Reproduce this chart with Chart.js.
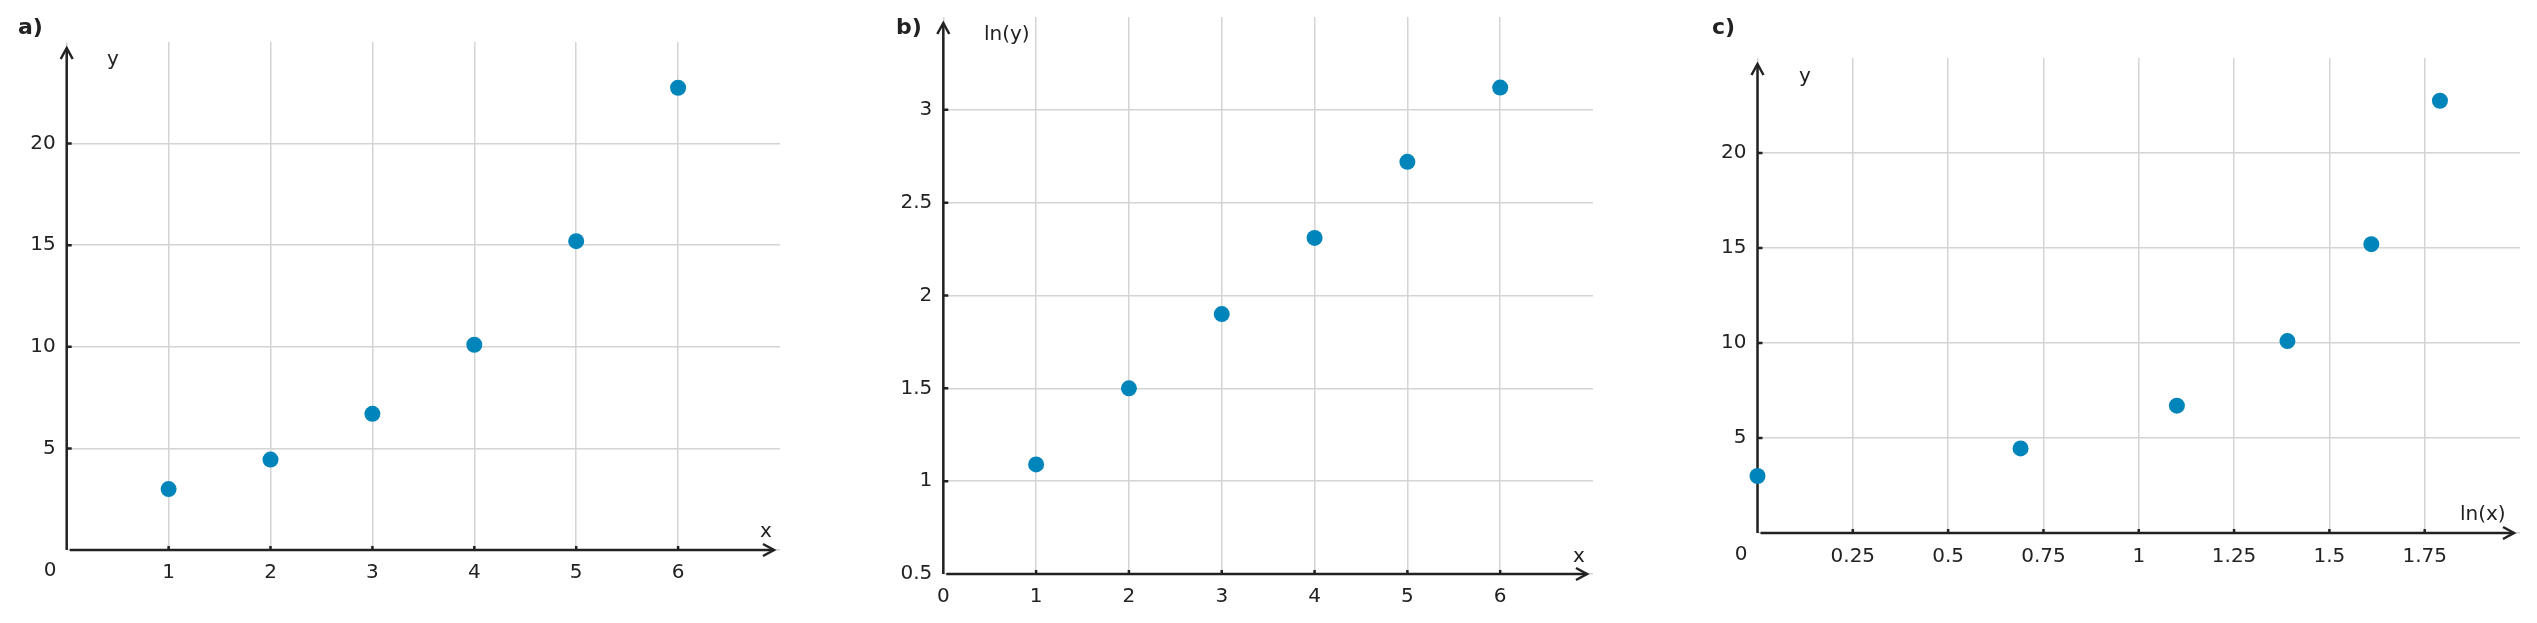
<!DOCTYPE html>
<html>
<head>
<meta charset="utf-8">
<script src="https://cdn.jsdelivr.net/npm/chart.js@4.4.1/dist/chart.umd.min.js"></script>
<style>
body{margin:0;background:#fff;width:2537px;height:623px;position:relative;overflow:hidden}
canvas{position:absolute;top:0}
</style>
</head>
<body>
<canvas id="ca" width="840" height="623" style="left:0px"></canvas>
<canvas id="cb" width="760" height="623" style="left:850px"></canvas>
<canvas id="cc" width="887" height="623" style="left:1650px"></canvas>
<script>
// data
var xVals   = [1, 2, 3, 4, 5, 6];
var yVals   = [3.0, 4.45, 6.7, 10.1, 15.2, 22.75];
var lnYVals = [1.09, 1.50, 1.90, 2.31, 2.72, 3.12];
var lnXVals = [0, 0.69, 1.10, 1.39, 1.61, 1.79];

var xTicksA = [0, 1, 2, 3, 4, 5, 6];
var yTicksA = [0, 5, 10, 15, 20];
var xTicksB = [0, 1, 2, 3, 4, 5, 6];
var yTicksB = [0.5, 1, 1.5, 2, 2.5, 3];
var xTicksC = [0, 0.25, 0.5, 0.75, 1, 1.25, 1.5, 1.75];
var yTicksC = [0, 5, 10, 15, 20];

var INK = '#222';
var DOT = '#0085bb';
var FONT = 'DejaVu Sans';

Chart.defaults.font.family = FONT;
Chart.defaults.font.size = 20;
Chart.defaults.color = INK;

function toPoints(xs, ys){
  var out = [];
  for (var i = 0; i < xs.length; i++) out.push({x: xs[i], y: ys[i]});
  return out;
}

function noPad(s){
  s.paddingTop = 0; s.paddingBottom = 0;
  s.paddingLeft = 0; s.paddingRight = 0;
}

function axesPlugin(p){
  return {
    id: 'axes',
    beforeDatasetsDraw: function(chart){
      var ctx = chart.ctx, a = chart.chartArea;
      var xs = chart.scales.x, ys = chart.scales.y;
      var ox = xs.getPixelForValue(xs.min), oy = ys.getPixelForValue(ys.min);
      var tipX = a.right - 6, tipY = a.top + 6;
      ctx.save();
      ctx.strokeStyle = INK;
      ctx.lineWidth = 2.5;
      ctx.beginPath();
      ctx.moveTo(ox, oy); ctx.lineTo(ox, tipY);
      ctx.moveTo(ox + 3, oy); ctx.lineTo(tipX, oy);
      ctx.stroke();
      // arrow heads
      ctx.beginPath();
      ctx.moveTo(ox - 6, tipY + 11); ctx.lineTo(ox, tipY); ctx.lineTo(ox + 6, tipY + 11);
      ctx.moveTo(tipX - 11, oy - 6); ctx.lineTo(tipX, oy); ctx.lineTo(tipX - 11, oy + 6);
      ctx.stroke();
      // little tick marks
      ctx.beginPath();
      xs.ticks.forEach(function(t){
        if (t.value === xs.min) return;
        var px = xs.getPixelForValue(t.value);
        ctx.moveTo(px, oy); ctx.lineTo(px, oy - 4);
      });
      ys.ticks.forEach(function(t){
        if (t.value === ys.min) return;
        var py = ys.getPixelForValue(t.value);
        ctx.moveTo(ox, py); ctx.lineTo(ox + 5, py);
      });
      ctx.stroke();
      ctx.fillStyle = INK;
      // panel letter
      ctx.font = 'bold 22px ' + FONT;
      ctx.textAlign = 'left';
      ctx.textBaseline = 'middle';
      ctx.fillText(p.letter, p.letterX, 28);
      // axis titles
      ctx.font = '20px ' + FONT;
      ctx.textBaseline = 'alphabetic';
      ctx.fillText(p.yTitle, p.yTitleX, p.yTitleY);
      ctx.fillText(p.xTitle, p.xTitleX, p.xTitleY);
      // origin label
      if (p.zeroX != null){
        ctx.font = '20px ' + FONT;
        ctx.textAlign = 'center';
        ctx.textBaseline = 'top';
        ctx.fillText('0', p.zeroX, a.bottom + p.xPad);
      }
      ctx.restore();
    }
  };
}

function makePanel(id, p){
  var labelOf = function(v){
    if (p.hideZero && v === 0) return '';
    return String(v);
  };
  new Chart(document.getElementById(id), {
    type: 'scatter',
    data: {
      datasets: [{
        data: toPoints(p.xData, p.yData),
        backgroundColor: DOT,
        borderWidth: 0,
        pointRadius: 8,
        pointHoverRadius: 8,
        clip: false
      }]
    },
    options: {
      responsive: false,
      animation: false,
      events: [],
      layout: {padding: {left: 0, top: p.top, right: p.right, bottom: 0}},
      plugins: {legend: {display: false}, tooltip: {enabled: false}},
      scales: {
        x: {
          type: 'linear',
          min: p.xMin, max: p.xMax,
          afterBuildTicks: function(s){ s.ticks = p.xTicks.map(function(v){ return {value: v}; }); },
          afterFit: function(s){ s.height = p.xHeight; noPad(s); },
          grid: {color: '#d4d4d4', lineWidth: 1.5, drawTicks: false},
          border: {display: false},
          ticks: {padding: p.xPad, maxRotation: 0, callback: labelOf}
        },
        y: {
          type: 'linear',
          min: p.yMin, max: p.yMax,
          afterBuildTicks: function(s){ s.ticks = p.yTicks.map(function(v){ return {value: v}; }); },
          afterFit: function(s){ s.width = p.yWidth; noPad(s); },
          grid: {color: '#d4d4d4', lineWidth: 1.5, drawTicks: false},
          border: {display: false},
          ticks: {padding: 11, callback: labelOf}
        }
      }
    },
    plugins: [axesPlugin(p)]
  });
}

makePanel('ca', {
  xData: xVals, yData: yVals, xTicks: xTicksA, yTicks: yTicksA,
  xMin: 0, xMax: 7, yMin: 0, yMax: 25, hideZero: true,
  top: 42, right: 60, yWidth: 66.7, xHeight: 73, xPad: 11,
  letter: 'a)', letterX: 18,
  yTitle: 'y', yTitleX: 107, yTitleY: 65,
  xTitle: 'x', xTitleX: 760, xTitleY: 537,
  zeroX: 50
});

makePanel('cb', {
  xData: xVals, yData: lnYVals, xTicks: xTicksB, yTicks: yTicksB,
  xMin: 0, xMax: 7, yMin: 0.5, yMax: 3.5, hideZero: false,
  top: 17, right: 17, yWidth: 93.3, xHeight: 49, xPad: 11,
  letter: 'b)', letterX: 46,
  yTitle: 'ln(y)', yTitleX: 134, yTitleY: 40,
  xTitle: 'x', xTitleX: 723, xTitleY: 562,
  zeroX: null
});

makePanel('cc', {
  xData: lnXVals, yData: yVals, xTicks: xTicksC, yTicks: yTicksC,
  xMin: 0, xMax: 2, yMin: 0, yMax: 25, hideZero: true,
  top: 58, right: 17, yWidth: 107.5, xHeight: 90, xPad: 12,
  letter: 'c)', letterX: 62,
  yTitle: 'y', yTitleX: 149, yTitleY: 82,
  xTitle: 'ln(x)', xTitleX: 810, xTitleY: 520,
  zeroX: 91
});
</script>
</body>
</html>
